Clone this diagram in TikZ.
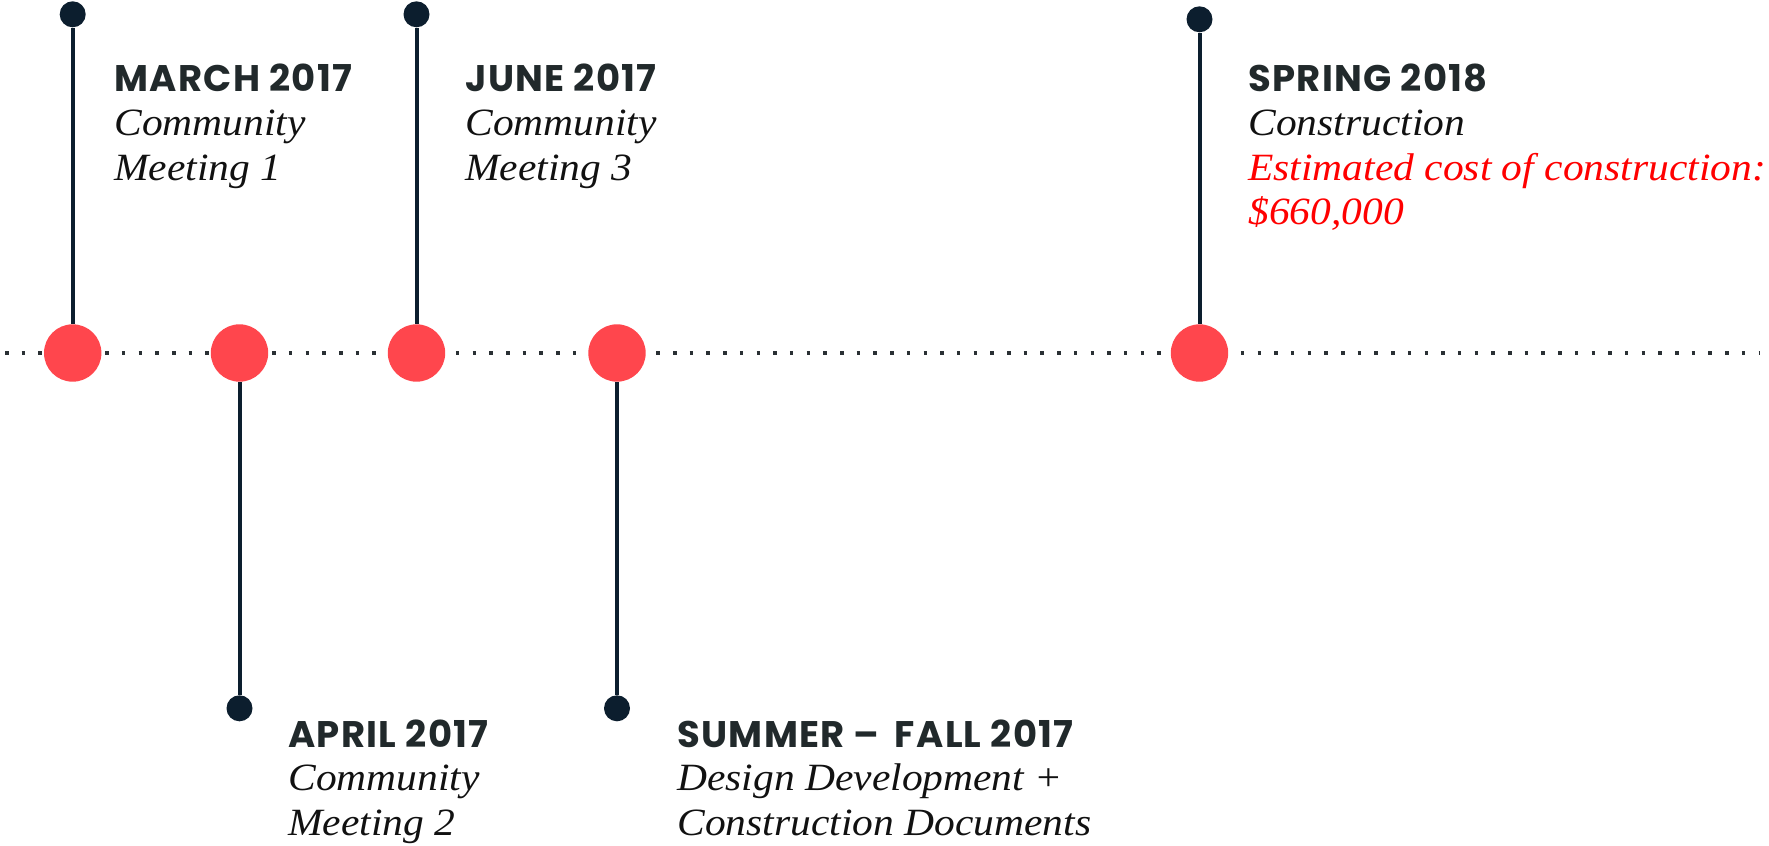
\documentclass[tikz,border=0pt]{standalone}
\usepackage{fontspec}
\newfontfamily\headfont{Poppins}[LetterSpace=3.5]
\newfontfamily\bodyfont{Liberation Serif}[FakeStretch=1.075]
\definecolor{navy}{HTML}{0C1E2E}
\definecolor{dotred}{HTML}{FF464D}
\definecolor{headgray}{HTML}{21292B}
\definecolor{bodyblack}{HTML}{111111}
\definecolor{costred}{HTML}{FF0000}
\definecolor{axisgray}{HTML}{2A3034}
\tikzset{
  reddot/.style={circle,fill=dotred,draw=none,minimum size=28.7pt,inner sep=0pt},
  navydot/.style={circle,fill=navy,draw=none,minimum size=13pt,inner sep=0pt},
  stem/.style={draw=navy,line width=2pt},
  axis/.style={draw=axisgray,line width=1.75pt,dash pattern=on 1.75pt off 6.6pt},
  head/.style={anchor=base west,inner sep=0pt,text=headgray,font=\headfont\bfseries\fontsize{18.5pt}{22pt}\selectfont},
  body/.style={anchor=base west,inner sep=0pt,text=bodyblack,font=\bodyfont\itshape\fontsize{19.3pt}{22pt}\selectfont},
  cost/.style={body,text=costred}
}
\begin{document}
\begin{tikzpicture}[x=0.5pt,y=-0.5pt]
\useasboundingbox (0,0) rectangle (1769,846);
% axis
\coordinate (axL) at (5,353);
\coordinate (axR) at (1760,353);
\draw[axis] (axL) -- (axR);
% milestones
\node[reddot] (c1) at (72.7,353) {};
\node[reddot] (c2) at (239.5,353) {};
\node[reddot] (c3) at (416.5,353) {};
\node[reddot] (c4) at (617,353) {};
\node[reddot] (c5) at (1199.5,353) {};
% end dots
\node[navydot] (t1) at (72.7,14.3) {};
\node[navydot] (t2) at (239.5,708.3) {};
\node[navydot] (t3) at (416.5,14.3) {};
\node[navydot] (t4) at (617,708.3) {};
\node[navydot] (t5) at (1199.5,19.3) {};
% stems
\draw[stem] (t1) -- (c1);
\draw[stem] (t2) -- (c2);
\draw[stem] (t3) -- (c3);
\draw[stem] (t4) -- (c4);
\draw[stem] (t5) -- (c5);
% labels
\node[head] (h1) at (114,91) {MARCH 2017};
\node[body] (b1a) at (114,135) {Community};
\node[body] (b1b) at (114,180) {Meeting 1};
\node[head] (h3) at (465,91) {JUNE 2017};
\node[body] (b3a) at (465,135) {Community};
\node[body] (b3b) at (465,180) {Meeting 3};
\node[head] (h5) at (1248,91) {SPRING 2018};
\node[body] (b5a) at (1248,135) {Construction};
\node[cost] (b5b) at (1248,180) {Estimated cost of construction:};
\node[cost] (b5c) at (1248,224) {\$660,000};
\node[head] (h2) at (288,747) {APRIL 2017};
\node[body] (b2a) at (288,790) {Community};
\node[body] (b2b) at (288,835) {Meeting 2};
\node[head] (h4) at (677,747) {SUMMER –\, FALL 2017};
\node[body] (b4a) at (677,790) {Design Development +};
\node[body] (b4b) at (677,835) {Construction Documents};
\end{tikzpicture}
\end{document}
